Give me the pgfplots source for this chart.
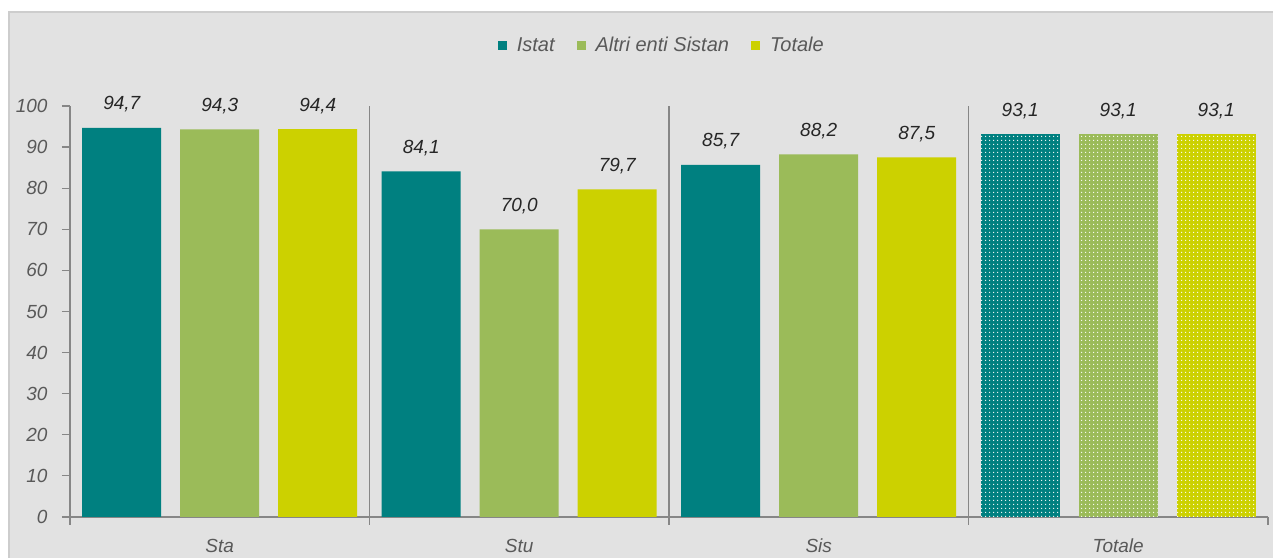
\documentclass[border=0pt]{standalone}
\usepackage{fontspec}
\setmainfont{Liberation Sans}
\usepackage{pgfplots}
\pgfplotsset{compat=1.18}
\usetikzlibrary{patterns}
\definecolor{cIstat}{RGB}{0,128,128}
\definecolor{cAltri}{RGB}{155,187,89}
\definecolor{cTot}{RGB}{204,209,0}
\definecolor{bgc}{RGB}{226,226,226}
\definecolor{bdc}{RGB}{205,205,205}
\definecolor{axc}{RGB}{134,134,134}
\definecolor{txc}{RGB}{89,89,89}
\definecolor{lbc}{RGB}{38,38,38}
\pgfdeclarepatternformonly{mydots}{\pgfpoint{0bp}{0bp}}{\pgfpoint{4bp}{4bp}}{\pgfpoint{4bp}{4bp}}{\pgfpathcircle{\pgfpoint{2bp}{2bp}}{0.85bp}\pgfusepath{fill}}
\newcommand{\chfont}{\fontsize{19bp}{22bp}\selectfont\itshape}
\begin{document}
\begin{tikzpicture}[x=1bp,y=1bp]
\fill[white] (-70,-41) rectangle (1203,517);
\fill[bgc] (-61,-41) rectangle (1203,505);
\draw[bdc, line width=1.2bp] (-61,-41) -- (-61,505) -- (1203,505);
\begin{axis}[
  at={(0,0)}, anchor=south west,
  scale only axis, width=1198bp, height=411bp,
  xmin=-0.5, xmax=3.5, ymin=0, ymax=100,
  clip=false,
  ybar, bar width=79bp,
  axis lines*=left,
  axis line style={axc, line width=1.2bp},
  tick align=outside,
  tick style={axc, line width=1.2bp},
  major tick length=8bp,
  ytick={0,10,...,100},
  xtick={-0.5,0.5,1.5,2.5,3.5},
  xticklabels={},
  extra x ticks={0,1,2,3},
  extra x tick labels={Sta,Stu,Sis,Totale},
  extra x tick style={major tick length=0pt},
  xticklabel style={font=\chfont, text=txc, anchor=base, yshift=-36bp},
  yticklabel style={font=\chfont, text=txc, xshift=-11bp},
  /pgf/number format/assume math mode=true,
  nodes near coords,
  every node near coord/.append style={font=\chfont, text=lbc, anchor=base, yshift=18bp,
     /pgf/number format/fixed, /pgf/number format/fixed zerofill,
     /pgf/number format/precision=1, /pgf/number format/use comma},
  legend style={at={(axis description cs:0.494,1.148)}, anchor=center, draw=none, fill=none,
     font=\fontsize{20bp}{23bp}\selectfont\itshape, text=txc,
     /tikz/every even column/.style={column sep=20bp}},
  legend columns=3,
  legend image code/.code={\fill[#1] (0bp,-4.5bp) rectangle (9bp,4.5bp); \path[draw=none,fill=none] (0bp,0bp) rectangle (17bp,0.1bp);},
]
\addplot[draw=none, fill=cIstat, bar shift=-98bp] coordinates {(0,94.7) (1,84.1) (2,85.7)};
\addplot[draw=none, fill=cAltri, bar shift=0bp] coordinates {(0,94.3) (1,70.0) (2,88.2)};
\addplot[draw=none, fill=cTot, bar shift=98bp] coordinates {(0,94.4) (1,79.7) (2,87.5)};
\addplot[forget plot, draw=none, fill=cIstat, bar shift=-98bp, postaction={pattern=mydots, pattern color=white}] coordinates {(3,93.1)};
\addplot[forget plot, draw=none, fill=cAltri, bar shift=0bp, postaction={pattern=mydots, pattern color=white}] coordinates {(3,93.1)};
\addplot[forget plot, draw=none, fill=cTot, bar shift=98bp, postaction={pattern=mydots, pattern color=white}] coordinates {(3,93.1)};
\legend{Istat, Altri enti Sistan, Totale}
\draw[axc, line width=1.2bp] (axis cs:0.5,0) -- (axis cs:0.5,100);
\draw[axc, line width=1.2bp] (axis cs:1.5,0) -- (axis cs:1.5,100);
\draw[axc, line width=1.2bp] (axis cs:2.5,0) -- (axis cs:2.5,100);
\end{axis}
\pgfresetboundingbox
\useasboundingbox (-70,-41) rectangle (1203,517);
\end{tikzpicture}
\end{document}
